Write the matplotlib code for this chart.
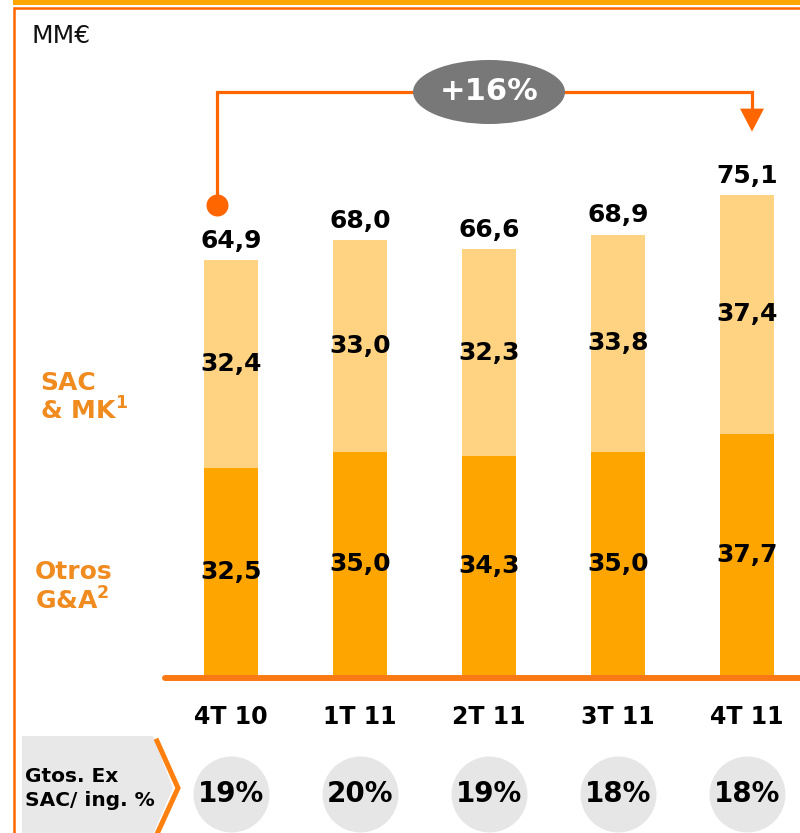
import matplotlib
matplotlib.use("Agg")
import matplotlib.pyplot as plt
from matplotlib.patches import Polygon, Ellipse, Rectangle

# ---- data ----
categories = ["4T 10", "1T 11", "2T 11", "3T 11", "4T 11"]
otros_ga = [32.5, 35.0, 34.3, 35.0, 37.7]
sac_mk = [32.4, 33.0, 32.3, 33.8, 37.4]
totals = [64.9, 68.0, 66.6, 68.9, 75.1]
ratio_pct = ["19%", "20%", "19%", "18%", "18%"]
growth_label = "+16%"

def fmt(v):
    return f"{v:.1f}".replace(".", ",")

# ---- colours ----
C_DARK = "#FFA500"
C_LIGHT = "#FFD382"
C_BASE = "#F97A15"
C_ARROW = "#FF6600"
C_LABEL = "#EF8B1F"
C_GRAY = "#E8E8E8"
C_ELL = "#787878"

plt.rcParams["font.family"] = ["DejaVu Sans"]
plt.rcParams["mathtext.fontset"] = "dejavusans"

W, H = 800, 833
fig = plt.figure(figsize=(W / 100, H / 100), dpi=100)
ax = fig.add_axes([0, 0, 1, 1])
ax.axis("off")

# pixel geometry of the scale
PX_X, X0PX = 129.0, 231.0
PX_Y, Y0PX = 6.41, 676.0
ax.set_xlim(-X0PX / PX_X, (W - X0PX) / PX_X)
ax.set_ylim(-(H - Y0PX) / PX_Y, Y0PX / PX_Y)

def px(x, y):
    return ((x - X0PX) / PX_X, (Y0PX - y) / PX_Y)

def dy(p):
    return p / PX_Y

def dx(p):
    return p / PX_X

xs = list(range(len(categories)))
bw = 54 / PX_X

# frame decorations
ax.add_patch(Rectangle(px(13, 4.5), dx(800), dy(4.5), color=C_DARK, clip_on=False, lw=0))
ax.plot(*zip(px(14, 833), px(14, 8), px(800, 8)), color=C_ARROW, lw=1.8,
        solid_capstyle="butt", solid_joinstyle="miter", clip_on=False)

ax.text(*px(32, 36), "MM€", fontsize=18, color="#111111", va="center", ha="left")

# bars
ax.bar(xs, otros_ga, width=bw, color=C_DARK, zorder=2)
ax.bar(xs, sac_mk, width=bw, bottom=otros_ga, color=C_LIGHT, zorder=2)

# baseline
ax.plot([px(165, 0)[0], px(800, 0)[0]], [-dy(2), -dy(2)], color=C_BASE, lw=4.3,
        solid_capstyle="round", zorder=3)

for i in xs:
    ax.text(i, otros_ga[i] / 2, fmt(otros_ga[i]), ha="center", va="center",
            fontsize=18, fontweight="bold", color="black", zorder=4)
    ax.text(i, otros_ga[i] + sac_mk[i] / 2, fmt(sac_mk[i]), ha="center", va="center",
            fontsize=18, fontweight="bold", color="black", zorder=4)
    ax.text(i, totals[i] + dy(19), fmt(totals[i]), ha="center", va="center",
            fontsize=18, fontweight="bold", color="black", zorder=4)
    ax.text(i, -dy(41), categories[i], ha="center", va="center",
            fontsize=17, fontweight="bold", color="black")

# ratio circles
circ_y = -dy(118)
ax.scatter(xs, [circ_y] * len(xs), s=(76 * 0.72) ** 2, color="#E6E6E6", lw=0, zorder=2)
for i in xs:
    ax.text(i, circ_y, ratio_pct[i], ha="center", va="center",
            fontsize=20, fontweight="bold", color="black", zorder=3)

# left labels
ax.text(*px(40, 383), "SAC", fontsize=18, fontweight="bold", color=C_LABEL, va="center")
ax.text(*px(40, 420), r"& MK$^{\mathbf{1}}$", fontsize=18, fontweight="bold",
        color=C_LABEL, va="baseline")
ax.text(*px(35, 572), "Otros", fontsize=18, fontweight="bold", color=C_LABEL, va="center")
ax.text(*px(35, 610), r"G&A$^{\mathbf{2}}$", fontsize=18, fontweight="bold",
        color=C_LABEL, va="baseline")

# bottom-left chevron box
ax.add_patch(Polygon([px(22, 736), px(153, 736), px(173, 788), px(153, 834), px(22, 834)],
                     closed=True, color=C_GRAY, lw=0, clip_on=False, zorder=1))
ax.plot(*zip(px(157, 741), px(178, 788), px(157, 834)), color="#FF7F0F", lw=3.6,
        solid_joinstyle="miter", clip_on=False, zorder=1)
ax.text(*px(25, 777), "Gtos. Ex", fontsize=14.5, fontweight="bold", color="black", va="center")
ax.text(*px(25, 800), "SAC/ ing. %", fontsize=14.5, fontweight="bold", color="black", va="center")

# growth arrow
x_start = 0 - dx(14)
y_start = totals[0] + dy(55)
y_top = totals[0] + dy(168)
x_end = 4 + dx(5)
y_tip = totals[4] + dy(63)
ax.plot([x_start, x_start, x_end, x_end], [y_start, y_top, y_top, y_tip + dy(20)],
        color=C_ARROW, lw=2.3, solid_joinstyle="miter", zorder=3)
ax.scatter([x_start], [y_start], s=(22 * 0.72) ** 2, color=C_ARROW, lw=0, zorder=4)
ax.add_patch(Polygon([(x_end - dx(12), y_tip + dy(23)), (x_end + dx(12), y_tip + dy(23)),
                      (x_end, y_tip)], closed=True, color=C_ARROW, lw=0, zorder=4))
ax.add_patch(Ellipse((2, y_top), dx(152), dy(64), color=C_ELL, lw=0, zorder=5))
ax.text(2, y_top, growth_label, ha="center", va="center", fontsize=22,
        fontweight="bold", color="white", zorder=6)

fig.savefig("out.png", dpi=100)
